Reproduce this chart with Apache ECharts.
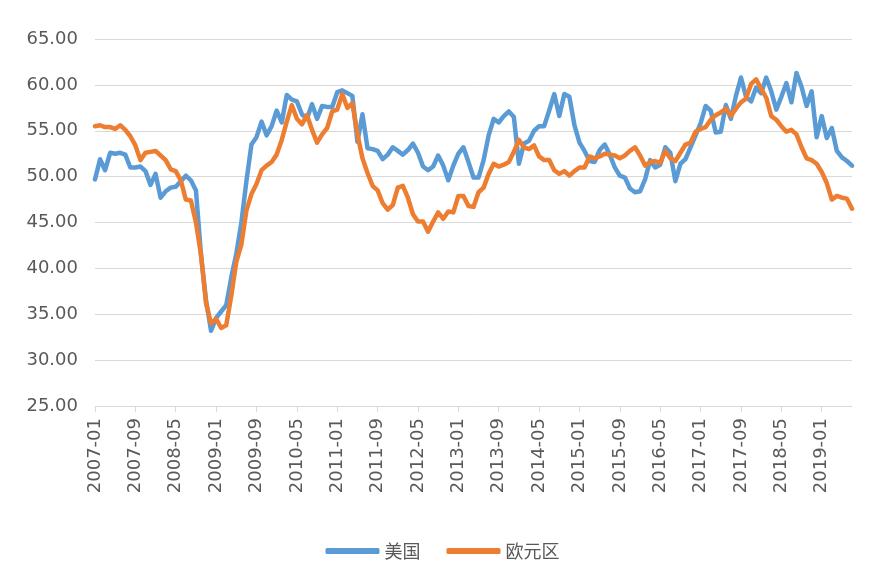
<!DOCTYPE html>
<html>
<head>
<meta charset="utf-8">
<script src="https://cdn.jsdelivr.net/npm/echarts@6/dist/echarts.min.js"></script>
<style>
html, body { margin: 0; padding: 0; background: #fff; }
#chart { width: 885px; height: 586px; }
</style>
</head>
<body>
<div id="chart"></div>
<script>
// month categories 2007-01 .. 2019-07
var months = [];
for (var y = 2007; y <= 2019; y++) {
  for (var m = 1; m <= 12; m++) {
    if (y === 2019 && m > 7) break;
    months.push(y + '-' + (m < 10 ? '0' + m : m));
  }
}

var seriesNames = ['美国', '欧元区'];

// 美国
var usPmi = [
  49.7, 51.9, 50.7, 52.6, 52.5, 52.6, 52.4, 51.0, 51.0, 51.1, 50.6, 49.1,
  50.3, 47.7, 48.4, 48.8, 48.9, 49.5, 50.1, 49.6, 48.5, 41.5, 36.5, 33.2,
  34.6, 35.3, 36.0, 39.0, 41.6, 45.0, 49.5, 53.5, 54.3, 56.0, 54.5, 55.5,
  57.2, 55.9, 58.9, 58.4, 58.2, 56.8, 56.3, 57.9, 56.3, 57.7, 57.6, 57.6,
  59.2, 59.4, 59.1, 58.8, 53.8, 56.8, 53.1, 53.0, 52.8, 51.9, 52.4, 53.2,
  52.8, 52.4, 52.9, 53.6, 52.6, 51.1, 50.7, 51.1, 52.3, 51.2, 49.6, 51.2,
  52.5, 53.2, 51.6, 49.9, 49.9, 51.8, 54.5, 56.3, 55.9, 56.6, 57.1, 56.5,
  51.4, 53.6, 53.9, 55.0, 55.5, 55.5, 57.2, 59.0, 56.6, 59.0, 58.7, 55.6,
  53.7, 52.8, 51.7, 51.6, 52.9, 53.5, 52.4, 51.0, 50.1, 49.9, 48.7, 48.3,
  48.4, 49.7, 51.8, 51.0, 51.3, 53.2, 52.6, 49.5, 51.4, 51.9, 53.2, 54.5,
  55.8, 57.7, 57.2, 54.8, 54.9, 57.8, 56.3, 58.8, 60.8, 58.7, 58.2, 59.7,
  59.1, 60.8, 59.3, 57.3, 58.7, 60.2, 58.1, 61.3, 59.8, 57.7, 59.3, 54.3,
  56.6, 54.2, 55.3, 52.8, 52.1, 51.7, 51.2
];

// 欧元区
var euPmi = [
  55.5, 55.6, 55.4, 55.4, 55.2, 55.6, 55.1, 54.4, 53.4, 51.8, 52.6, 52.7,
  52.8, 52.3, 51.8, 50.8, 50.6, 49.6, 47.5, 47.4, 45.0, 41.5, 36.2, 34.0,
  34.5, 33.5, 33.8, 37.0, 40.7, 42.6, 46.3, 48.1, 49.2, 50.7, 51.2, 51.6,
  52.4, 54.0, 56.0, 57.8, 56.3, 55.7, 56.7, 55.1, 53.7, 54.6, 55.3, 57.1,
  57.3, 59.0, 57.5, 58.0, 54.6, 52.0, 50.4, 49.0, 48.5, 47.1, 46.4, 46.9,
  48.8, 49.0, 47.7, 45.9, 45.1, 45.1, 44.0, 45.1, 46.1, 45.4, 46.2, 46.1,
  47.9, 47.9, 46.8, 46.7, 48.3, 48.8, 50.3, 51.4, 51.1, 51.3, 51.6, 52.7,
  54.0, 53.2, 53.0, 53.4, 52.2, 51.8, 51.8, 50.7, 50.3, 50.6, 50.1, 50.6,
  51.0, 51.0, 52.2, 52.0, 52.2, 52.5, 52.4, 52.3, 52.0, 52.3, 52.8, 53.2,
  52.3, 51.2, 51.6, 51.7, 51.5, 52.8, 52.0, 51.7, 52.6, 53.5, 53.7, 54.9,
  55.2, 55.4, 56.2, 56.7, 57.0, 57.4, 56.6, 57.4, 58.1, 58.5, 60.1, 60.6,
  59.6, 58.6, 56.6, 56.2, 55.5, 54.9, 55.1, 54.6, 53.2, 52.0, 51.8, 51.4,
  50.5, 49.3, 47.5, 47.9, 47.7, 47.6, 46.5
];

var yMin = 25, yMax = 65, yStep = 5;

var gridColor = '#d9d9d9';
var textColor = '#595959';

var myChart = echarts.init(document.getElementById('chart'));
myChart.setOption({
  backgroundColor: '#fff',
  animation: false,
  color: ['#5b9bd5', '#ed7d31'],
  grid: { left: 95, right: 33, top: 39, bottom: 180 },
  legend: {
    data: seriesNames,
    top: 537,
    left: 'center',
    icon: 'roundRect',
    itemWidth: 54,
    itemHeight: 6,
    itemGap: 26,
    textStyle: { color: textColor, fontSize: 18, fontFamily: 'Noto Sans CJK SC' }
  },
  xAxis: {
    type: 'category',
    boundaryGap: false,
    data: months,
    axisLine: { lineStyle: { color: gridColor, width: 1 } },
    axisTick: { show: true, interval: 7, length: 6, lineStyle: { color: gridColor } },
    axisLabel: {
      interval: 7,
      rotate: 90,
      margin: 12,
      color: textColor,
      fontSize: 18,
      fontFamily: 'DejaVu Sans'
    },
    splitLine: { show: false }
  },
  yAxis: {
    type: 'value',
    min: yMin,
    max: yMax,
    interval: yStep,
    axisLine: { show: false },
    axisTick: { show: false },
    axisLabel: {
      margin: 17,
      color: textColor,
      fontSize: 18,
      fontFamily: 'DejaVu Sans',
      formatter: function (v) { return v.toFixed(2); }
    },
    splitLine: { lineStyle: { color: gridColor, width: 1 } }
  },
  series: [
    {
      name: seriesNames[0],
      type: 'line',
      data: usPmi,
      symbol: 'none',
      lineStyle: { width: 4.5, join: 'round', cap: 'round' }
    },
    {
      name: seriesNames[1],
      type: 'line',
      data: euPmi,
      symbol: 'none',
      lineStyle: { width: 4.5, join: 'round', cap: 'round' }
    }
  ]
});
</script>
</body>
</html>
